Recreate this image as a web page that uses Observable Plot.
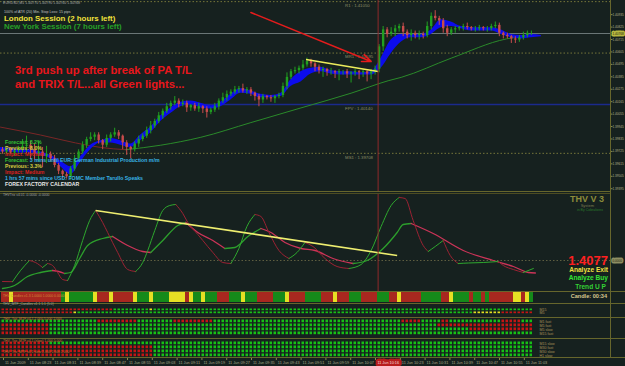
<!DOCTYPE html>
<html><head><meta charset="utf-8">
<script src="https://cdn.jsdelivr.net/npm/d3@7"></script>
<script src="https://cdn.jsdelivr.net/npm/@observablehq/plot@0.6"></script>
<style>
html,body{margin:0;padding:0;background:#16211f;overflow:hidden}
#wrap{position:relative;width:625px;height:366px;overflow:hidden;background:#16211f;font-family:"Liberation Sans",Arial,sans-serif}
#wrap svg{position:absolute;left:0;overflow:visible}
.t{position:absolute;white-space:nowrap;line-height:1;font-family:"Liberation Sans",Arial,sans-serif}
.ln{position:absolute;background:#66662c}
</style></head><body><div id="wrap"></div>
<script>
// ---------------- DATA ----------------
const closes = [1.3972,1.3974,1.3971,1.3973,1.3975,1.3977,1.3978,1.3974,1.3970,1.3972,
 1.3968,1.3970,1.3966,1.3960,1.3955,1.3952,1.3950,1.3957,1.3966,1.3972,
 1.3978,1.3983,1.3985,1.3987,1.3982,1.3978,1.3984,1.3987,1.3989,1.3986,
 1.3980,1.3976,1.3974,1.3979,1.3983,1.3986,1.3991,1.3995,1.3999,1.4004,
 1.4008,1.4012,1.4015,1.4017,1.4014,1.4015,1.4011,1.4013,1.4010,1.4012,
 1.4010,1.4007,1.4009,1.4012,1.4017,1.4020,1.4023,1.4025,1.4027,1.4028,
 1.4026,1.4027,1.4024,1.4021,1.4018,1.4021,1.4020,1.4019,1.4021,1.4022,
 1.4030,1.4038,1.4043,1.4044,1.4046,1.4049,1.4052,1.4050,1.4047,1.4044,
 1.4045,1.4043,1.4043,1.4042,1.4043,1.4043,1.4041,1.4042,1.4043,1.4042,
 1.4043,1.4041,1.4043,1.4045,1.4065,1.4080,1.4076,1.4078,1.4081,1.4083,
 1.4078,1.4075,1.4077,1.4075,1.4076,1.4075,1.4083,1.4092,1.4090,1.4088,
 1.4081,1.4077,1.4080,1.4081,1.4082,1.4083,1.4082,1.4081,1.4081,1.4082,
 1.4081,1.4081,1.4083,1.4084,1.4077,1.4075,1.4074,1.4072,1.4071,1.4073,
 1.4075,1.4077,1.4077];
const firstOpen = 1.3974;
const upWickPips = [2,1,2,1,2, 6,8,3,5,9,4,7, 2,3,2,1,2, 2,3,2,3,2,4,2, 2,1,3,2,4,2,1,2,1,
 2,3,2,3,4,2,3,2,3,2,4, 2,3,2,1,2,3,1,2,2, 3,2,4,3,2,3,2,4,2, 2,1,2,2,1,2,1,2,
 3,4,2,3,2,4,3,2,1,2, 2,1,3,1,2,1,2,1,2,1,2,1,2,3, 2,3,2,4,3,2, 3,2,3,2,3,2, 4,3,5,2,
 2,3,2,2,1,2,3,1,2,2, 1,2,2,3,2,1,2,1,2,2,3,2,2];
const dnWickPips = [2,2,1,3,2, 4,6,9,5,7,10,6, 3,2,3,4,2, 3,2,3,2,3,2,3, 3,4,2,3,2,3,6,7,8,
 2,3,2,2,3,2,2,3,2,3,2, 3,2,4,3,2,3,4,5,2, 2,3,2,3,2,2,3,2,3, 3,4,6,3,2,3,4,2,
 2,3,2,2,3,2,2,3,4,3, 6,4,3,5,7,3,4,8,3,6,4,7,5,3, 3,4,3,2,4,3, 4,3,5,3,4,3, 2,3,2,4,
 4,3,2,3,2,3,2,2,3,2, 2,3,2,2,3,3,2,4,3,2,2,2,2];

const ribbonBar = [-0.5,2,4.5,7,9.5,12,14.5,17,19.5,22,24.5,27,29.5,32,34.5,37,39.5,42,44.5,47,49.5,52,54.5,57,59.5,62,64.5,67,69.5,72,74.5,77,79.5,82,84.5,87,89.5,92,94.5,97,99.5,102,104.5,107,109.5,112,114.5,117,119.5,122,124.5,127,129.5,132,134.5];
const ribbonTop = [1.3976,1.3975,1.3974,1.3974,1.3972,1.3969,1.3964,1.3959,1.3968,1.3978,1.3982,1.3984,1.3982,1.3979,1.3987,1.3994,1.4004,1.4011,1.4016,1.4017,1.4015,1.4013,1.4016,1.4023,1.4028,1.4026,1.4023,1.4022,1.4024,1.4036,1.4043,1.4046,1.4047,1.4044,1.4043,1.4043,1.4042,1.4043,1.4055,1.4071,1.4076,1.4076,1.4076,1.4080,1.4089,1.4087,1.4083,1.4082,1.4082,1.4082,1.4080,1.4076,1.4075,1.4076,1.4075];
const ribbonBot = [1.3972,1.3972,1.3971,1.3971,1.3969,1.3966,1.3959,1.3952,1.3963,1.3974,1.3980,1.3980,1.3978,1.3976,1.3982,1.3989,1.3999,1.4006,1.4012,1.4014,1.4011,1.4010,1.4012,1.4018,1.4024,1.4023,1.4020,1.4020,1.4021,1.4030,1.4034,1.4041,1.4043,1.4041,1.4040,1.4040,1.4040,1.4040,1.4046,1.4059,1.4069,1.4073,1.4073,1.4076,1.4082,1.4083,1.4081,1.4079,1.4079,1.4079,1.4076,1.4073,1.4072,1.4073,1.4074];

const maBar = [-0.5,9.5,18.25,24.5,30.75,39.5,49.5,62,74.5,87,96.25,99.5,112,125.75,132.5];
const maVal = [1.3994,1.3987,1.3980,1.3976,1.3974,1.3978,1.3985,1.3998,1.4011,1.4024,1.4035,1.4038,1.4055,1.4072,1.4075];

const pivotNames = ["R1","MR1","FPV","MS1"];
const pivotValues = [1.41050,1.40595,1.40140,1.39708];
const priceTicks = [1.40935,1.40825,1.40715,1.40605,1.40495,1.40385,1.40275,1.40165,1.40055,1.39945,1.39835,1.39725,1.39615,1.39505,1.39395];
const bidPrice = 1.40768;
const breakBar = 93.75;
const priceTrend = {x1:75.75, y1:1.40538, x2:93.75, y2:1.40432};
const arrowLine = {x1:62, y1:1.40954, x2:92, y2:1.40521};

const trixFastBar = [0,2.5,4.5,6.75,8.25,10,11.25,12.5,13.75,15,16.25,18,20,21.75,23.25,25,26.25,28.75,31.25,33.25,35,36.25,38,40,41.75,43.25,45,46.25,48.75,50,52.5,55,57,59,61,63,64.5,66.5,69,71.5,73.5,75.5,77.5,80.5,83.5,86.5,89.5,92,94.5,97,99,100.5,102.5,105,106.25,108,110,111.75,113.75,116.25,120,123.75,125,127.5,130,132.5];
const trixFastVal = [-0.00021,-0.000212,-0.0001,0,-0.00002,-0.00007,-0.00003,-0.00005,-0.00012,-0.00019,-0.0002,-0.00005,0.0002,0.0004,0.0005,0.00038,0.00028,0.00008,-0.00009,-0.00011,-0.00002,0.0001,0.0003,0.0005,0.00055,0.00056,0.00047,0.00038,0.00026,0.0002,0.00008,-0.00002,-0.00003,0.00012,0.00034,0.00046,0.00044,0.00028,0.0001,0.00002,0.00008,0.00018,0.00014,0.00002,-0.00006,-0.00008,-0.00004,0.0001,0.00034,0.00055,0.00063,0.00062,0.0004,0.00015,0.00009,0.00014,0.0002,0.00005,-0.00003,-0.000025,-0.00002,-0.00001,-0.00005,-0.00009,-0.00012,-0.00008];
const trixSlowBar = [0,3,6.25,9.5,12.5,14,15.5,17,19.25,21.25,25,27.5,31.25,35,37,40,43.75,45.75,48.75,52.5,55.5,58,61.25,64.5,67,70.5,74.5,78,82.5,87.5,91,95,98.5,100,102,107.5,115,122.5,127.5,131.25,133];
const trixSlowVal = [-0.00028,-0.00025,-0.00016,-0.00012,-0.0001,-0.00011,-0.00013,-0.00012,0.00002,0.00015,0.00022,0.00024,0.00015,0.00009,0.00008,0.0002,0.00035,0.00038,0.00028,0.0002,0.00012,0.00013,0.00024,0.00032,0.00028,0.00018,0.00012,0.0001,0.00002,-0.00003,0,0.00012,0.00028,0.00036,0.00037,0.00027,0.0001,0,-0.00006,-0.00012,-0.000125];
const trixTrend = {x1:23.25, y1:0.0005, x2:98.5, y2:0.00005};

const candleBarRuns = [[0,"R"],[2,"Y"],[3,"R"],[15,"G"],[16,"Y"],[17,"G"],[23,"Y"],[24,"R"],[27,"Y"],[28,"R"],[33,"Y"],[34,"G"],[37,"Y"],[38,"G"],[42,"Y"],[46,"R"],[47,"Y"],[48,"G"],[50,"Y"],[51,"G"],[54,"R"],[57,"G"],[60,"Y"],[61,"G"],[64,"R"],[68,"G"],[71,"Y"],[72,"R"],[76,"G"],[80,"R"],[83,"Y"],[84,"R"],[87,"G"],[90,"R"],[94,"G"],[97,"R"],[99,"Y"],[100,"R"],[105,"G"],[110,"R"],[112,"Y"],[113,"G"],[117,"R"],[118,"G"],[120,"R"],[121,"G"],[122,"R"],[128,"Y"],[130,"R"],[131,"Y"],[132,"G"]];

const rowsA = ["M15","M5"];
const runsA = [[[0,"r"],[28,"g"],[37,"y"],[38,"g"]],
               [[0,"r"],[18,"y"],[19,"g"],[118,"y"],[125,"r"]]];
const rowsB = ["M1 fast","M5 fast","M5 slow","M15 fast"];
const runsB = [[[0,"g"],[24,"r"],[34,"g"],[43,"r"],[53,"g"],[100,"r"],[105,"g"],[110,"r"],[112,"g"],[125,"r"],[130,"g"]],
               [[0,"r"],[12,"g"],[109,"r"]],
               [[0,"r"],[12,"g"],[117,"r"]],
               [[0,"r"],[12,"g"]]];
const rowsC = ["M15 slow","M30 fast","M30 slow","H1 slow"];
const runsC = [[[0,"r"],[12,"g"]],
               [[0,"r"],[38,"g"]],
               [[0,"r"],[38,"g"]],
               [[0,"r"],[38,"g"]]];

const timeText = ["11 Jun 2009","11 Jun 08:23","11 Jun 08:31","11 Jun 08:39","11 Jun 08:47","11 Jun 08:55","11 Jun 09:03","11 Jun 09:11","11 Jun 09:19","11 Jun 09:27","11 Jun 09:35","11 Jun 09:43","11 Jun 09:51","11 Jun 09:59","11 Jun 10:07","11 Jun 10:15","11 Jun 10:23","11 Jun 10:31","11 Jun 10:39","11 Jun 10:47","11 Jun 10:55","11 Jun 11:03"];
const timeMin = [0,8,16,24,32,40,48,56,64,72,80,88,96,104,112,120,128,136,144,152,160,168];
const cursorTime = {m:120.6, t:"11 Jun 10:16"};

// ---------------- BUILD ----------------
const wrap = document.getElementById("wrap");
const PIP = 0.0001, NSLOT = 152;
const UP="#20a020", DN="#c84c4c";
const STYLE = {background:"transparent", color:"#b4b48a", fontFamily:"Liberation Sans, Arial, sans-serif", fontSize:"4px", overflow:"visible"};
function put(svg, top){ svg.style.top = top+"px"; wrap.appendChild(svg); return svg; }
function txt(s, x, cy, size, color, bold=true, anchor="start"){
  const d=document.createElement("div"); d.className="t"; d.textContent=s;
  d.style.fontSize=size+"px"; d.style.color=color; d.style.fontWeight=bold?"bold":"normal";
  d.style.top=(cy-size*0.5)+"px";
  if(anchor==="end") d.style.right=(625-x)+"px"; else d.style.left=x+"px";
  wrap.appendChild(d); return d;
}
function hline(y,x0,x1,c){const d=document.createElement("div");d.className="ln";d.style.left=x0+"px";d.style.top=y+"px";d.style.width=(x1-x0)+"px";d.style.height="1px";if(c)d.style.background=c;wrap.appendChild(d);}
function vline(x,y0,y1,c){const d=document.createElement("div");d.className="ln";d.style.left=x+"px";d.style.top=y0+"px";d.style.width="1px";d.style.height=(y1-y0)+"px";if(c)d.style.background=c;wrap.appendChild(d);}
function slopeRuns(xs, vs){
  const out=[]; let run=-1, dir=null;
  for(let i=1;i<xs.length;i++){
    const d = vs[i]>=vs[i-1] ? "up":"down";
    if(d!==dir){ run++; dir=d; out.push({x:xs[i-1], v:vs[i-1], run, dir}); }
    out.push({x:xs[i], v:vs[i], run, dir});
  }
  return out;
}
function expandRuns(runs){
  const out=[];
  for(let i=0;i<closes.length;i++){ let code=runs[0][1]; for(const [s,c] of runs) if(s<=i) code=c; out.push(code); }
  return out;
}

const candles = closes.map((c,i)=>{
  const o = i ? closes[i-1] : firstOpen;
  return {i, o, c, hi: Math.max(o,c)+upWickPips[i]*PIP, lo: Math.min(o,c)-dnWickPips[i]*PIP, col: c>=o?UP:DN};
});
const ribbon = ribbonBar.map((b,k)=>({b, hi:ribbonTop[k], lo:ribbonBot[k]}));
const pivots = pivotNames.map((n,k)=>({name:n, v:pivotValues[k]}));

// main price panel
const mainPlot = Plot.plot({
  width:625, height:191, marginTop:0, marginBottom:0, marginLeft:0, marginRight:15,
  x:{domain:[-0.5,151.75], axis:null},
  y:{domain:[1.3922,1.4106], range:[208,0], axis:null},
  color:{type:"identity"},
  style:STYLE,
  marks:[
    Plot.ruleY(pivots.filter(p=>p.name!=="FPV"), {y:"v", stroke:"#76763a", strokeDasharray:"1.5,2"}),
    Plot.ruleY(pivots.filter(p=>p.name==="FPV"), {y:"v", stroke:"#1b2a8c", strokeWidth:1.4}),
    Plot.ruleY([bidPrice], {stroke:"#6a7676"}),
    Plot.text(pivots, {x:()=>85.5, y:"v", dy:4, text:d=>`${d.name} : ${d.v.toFixed(5)}`, textAnchor:"start", fill:"#8c8c66", fontSize:4.3}),
    Plot.line(slopeRuns(maBar, maVal), {x:"x", y:"v", z:"run", stroke:d=>d.dir==="up"?"#2a8a2a":"#7a2626", curve:"monotone-x", strokeWidth:1}),
    Plot.areaY(ribbon, {x:"b", y1:"lo", y2:"hi", fill:"#0c0cec", curve:"monotone-x"}),
    Plot.ruleX(candles, {x:"i", y1:"lo", y2:"hi", stroke:"col", strokeWidth:1}),
    Plot.ruleX(candles, {x:"i", y1:"o", y2:"c", stroke:"col", strokeWidth:2.4}),
    Plot.link([priceTrend], {x1:"x1", y1:"y1", x2:"x2", y2:"y2", stroke:"#ecec5c", strokeWidth:1.6}),
    Plot.arrow([arrowLine], {x1:"x1", y1:"y1", x2:"x2", y2:"y2", stroke:"#e41c1c", strokeWidth:1.6, headLength:9, headAngle:45}),
    Plot.ruleX([breakBar], {stroke:"#8e2a2a"}),
    Plot.axisY(priceTicks, {anchor:"right", tickSize:1.5, tickPadding:0.5, tickFormat:d=>d.toFixed(5), stroke:"#8a8a4a", fill:"#b4b48a", fontSize:3.1}),
    Plot.text([bidPrice], {y:d=>d, frameAnchor:"right", dx:2, textAnchor:"start", text:d=>d.toFixed(5), fill:"#20200c", stroke:"#b8b840", strokeWidth:3, paintOrder:"stroke", fontSize:3.1})
  ]
});
put(mainPlot, 0);

// TRIX panel
const trixPlot = Plot.plot({
  width:625, height:98, marginTop:0, marginBottom:0, marginLeft:0, marginRight:15,
  x:{domain:[-0.5,151.75], axis:null},
  y:{domain:[-0.00031,0.00067], axis:null},
  color:{type:"identity"},
  style:STYLE,
  marks:[
    Plot.ruleY([0], {stroke:"#5e5e40", strokeDasharray:"1.5,2"}),
    Plot.line(slopeRuns(trixSlowBar, trixSlowVal), {x:"x", y:"v", z:"run", stroke:d=>d.dir==="up"?"#2c9e2c":"#cc3458", curve:"monotone-x", strokeWidth:1.3}),
    Plot.line(slopeRuns(trixFastBar, trixFastVal), {x:"x", y:"v", z:"run", stroke:d=>d.dir==="up"?"#2ea82e":"#9c2233", curve:"monotone-x", strokeWidth:1}),
    Plot.link([trixTrend], {x1:"x1", y1:"y1", x2:"x2", y2:"y2", stroke:"#eeee70", strokeWidth:1.6}),
    Plot.ruleX([breakBar], {stroke:"#8e2a2a"}),
    Plot.text([0], {y:d=>d, frameAnchor:"right", dx:2, textAnchor:"start", text:()=>"0.0000", fill:"#20200c", stroke:"#8e8e62", strokeWidth:3, paintOrder:"stroke", fontSize:3.1})
  ]
});
put(trixPlot, 193);

// candle colour bar
const cbColor = {R:"#a8281f", G:"#158a1a", Y:"#e6e024"};
const cbCodes = expandRuns(candleBarRuns);
const cbPlot = Plot.plot({
  width:625, height:10, marginTop:0, marginBottom:0, marginLeft:0, marginRight:15,
  x:{type:"band", domain:d3.range(NSLOT), padding:0, axis:null},
  y:{type:"band", domain:["bar"], padding:0, axis:null},
  color:{type:"identity"},
  style:STYLE,
  marks:[ Plot.cell(cbCodes.map((c,i)=>({i,c})), {x:"i", y:()=>"bar", fill:d=>cbColor[d.c]}) ]
});
put(cbPlot, 292);

// dot matrix panels
const dotColor = {r:"#c41414", g:"#16c016", y:"#e2e020"};
function dotPanel(names, runs, top, height){
  const rows=[];
  names.forEach((n,k)=>expandRuns(runs[k]).forEach((c,i)=>rows.push({i,row:n,c})));
  const p = Plot.plot({
    width:625, height, marginTop:0, marginBottom:0, marginLeft:0, marginRight:15,
    x:{type:"band", domain:d3.range(NSLOT), padding:0, axis:null},
    y:{type:"band", domain:names, padding:0, axis:null},
    color:{type:"identity"},
    style:STYLE,
    marks:[
      Plot.cell(rows, {x:"i", y:"row", fill:d=>dotColor[d.c], insetLeft:0.5, insetRight:1, insetTop:0.5, insetBottom:0.8}),
      Plot.text(names, {x:()=>134, y:d=>d, text:d=>d, textAnchor:"start", fill:"#a89058", fontSize:3.6})
    ]
  });
  put(p, top);
}
dotPanel(rowsA, runsA, 307, 7);
dotPanel(rowsB, runsB, 318.5, 16);
dotPanel(rowsC, runsC, 340, 17);

// time axis
const timeRows = timeMin.map((m,k)=>({m, t:timeText[k]})).filter(d=>Math.abs(d.m-cursorTime.m)>4);
const timePlot = Plot.plot({
  width:625, height:9, marginTop:0, marginBottom:0, marginLeft:0, marginRight:15,
  x:{domain:[-0.97,195.8], axis:null},
  color:{type:"identity"},
  style:STYLE,
  marks:[
    Plot.tickX(timeMin, {stroke:"#8a8a50", insetBottom:6}),
    Plot.text(timeRows, {x:"m", text:"t", textAnchor:"start", dx:1.5, frameAnchor:"middle", dy:1, fill:"#a8a888", fontSize:3.8}),
    Plot.text([cursorTime], {x:"m", text:"t", textAnchor:"start", dx:0, frameAnchor:"middle", dy:1, fill:"#f4dcdc", stroke:"#b81c1c", strokeWidth:5, paintOrder:"stroke", fontSize:3.8})
  ]
});
put(timePlot, 357);

// borders
hline(191,0,610); hline(193,0,610,"#4c4c22"); hline(291,0,625); hline(303,0,625); hline(317,0,625); hline(338,0,625); hline(357,0,625);
vline(610,0,358);

// ---------------- TEXT ----------------
txt("EURUSD,M1  1.40770 1.40790 1.40760 1.40768", 3, 4, 3.6, "#a8a8a8", false);
txt("100% of ATR (20)      Min. Stop Loss:      15 pips", 4, 13, 3.6, "#c0c0c0", false);
txt("London Session (2 hours left)", 4, 19, 7.9, "#f0e23c");
txt("New York Session (7 hours left)", 4, 26.5, 7.9, "#27a027");
txt("3rd push up after break of PA T/L", 15, 71, 11.3, "#e8161c");
txt("and TRIX T/L...all Green lights...", 15, 85, 11.3, "#e8161c");

txt("Forecast: 8.2%", 5, 143, 5.2, "#34c034");
txt("Previous: 8.0%", 5, 149, 5.2, "#d8d040");
txt("Impact: Medium", 5, 155, 5.2, "#d82020");
const mixed = txt("", 5, 161, 5.2, "#38b4e4");
mixed.innerHTML = '<span style="color:#34c034">Forecast:</span> 3 mins until EUR: German Industrial Production m/m';
txt("Previous: 3.3%", 5, 167, 5.2, "#d8d040");
txt("Impact: Medium", 5, 173, 5.2, "#d82020");
txt("1 hrs 57 mins since USD: FOMC Member Tarullo Speaks", 5, 179, 5.2, "#38b4e4");
txt("FOREX FACTORY CALENDAR", 5, 185, 5.2, "#e8e8e8");

txt("THVTrix v4.01 -0.0000 -0.0000", 3, 196, 3.4, "#a0a0a0", false);
txt("THV V 3", 604, 199, 9, "#8c8c3a", true, "end");
txt("System", 594, 205.5, 4, "#7c7c50", false, "end");
txt("in By Cobraforex", 603, 211, 3.5, "#2a7a2a", false, "end");
txt("1.4077", 608, 260, 13, "#ff2020", true, "end");
txt("Analyze Exit", 608, 270.5, 6.6, "#f0e040", true, "end");
txt("Analyze Buy", 608, 278.5, 6.6, "#34e034", true, "end");
txt("Trend U P", 606, 287, 6.6, "#34d034", true, "end");
txt("Candle: 00:34", 607, 297, 5.6, "#d8c890", true, "end");

txt("THV Candles v1.3  1.0000  1.0000  0.0000", 3, 297, 3.4, "#d08a3a", false);
txt("THV_MTF_Candles v1.1  1.1 (5.0)", 3, 305, 3.4, "#a0a0a0", false);
txt("THV_Trix_MTF v4.1  2.000  5.000  2.000", 3, 320, 3.4, "#d07030", false);
txt("THV_Trix_MTF v4.1  (slow)  1.000  5.000", 3, 342, 3.4, "#d07030", false);
txt("THV_Trix_MTF v4.1  slow  2.000  1.000  2.000", 3, 353, 3.4, "#d07030", false);
</script></body></html>
